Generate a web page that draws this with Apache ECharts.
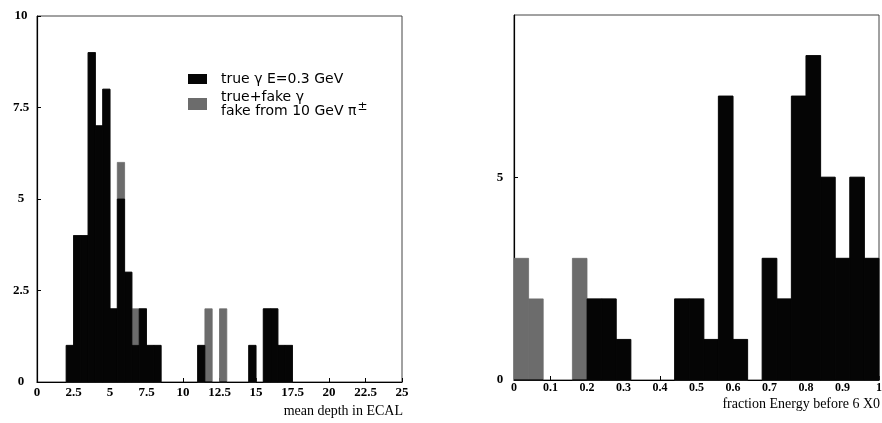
<!DOCTYPE html>
<html>
<head>
<meta charset="utf-8">
<script src="https://cdn.jsdelivr.net/npm/echarts@6/dist/echarts.min.js"></script>
<style>
  html, body { margin: 0; padding: 0; background: #fff; }
  #chart { width: 882px; height: 423px; }
</style>
</head>
<body>
<div id="chart"></div>
<script>
// left histogram: mean depth in ECAL, bins of 0.5
const depthBinWidth = 0.5;
const depthBinStart = [2.0, 2.5, 3.0, 3.5, 4.0, 4.5, 5.0, 5.5, 6.0, 6.5, 7.0, 7.5, 8.0, 11.0, 11.5, 12.5, 14.5, 15.5, 16.0, 16.5, 17.0];
const depthTrue     = [1,   4,   4,   9,   7,   8,   2,   5,   3,   1,   2,   1,   1,   1,    0,    0,    1,    2,    2,    1,    1];
const depthAll      = [1,   4,   4,   9,   7,   8,   2,   6,   3,   2,   2,   1,   1,   1,    2,    2,    1,    2,    2,    1,    1];

// right histogram: fraction energy before 6 X0, bins of 0.04
const fracBinWidth = 0.04;
const fracBinStart = [0.00, 0.04, 0.16, 0.20, 0.24, 0.28, 0.44, 0.48, 0.52, 0.56, 0.60, 0.68, 0.72, 0.76, 0.80, 0.84, 0.88, 0.92, 0.96];
const fracTrue     = [0,    0,    0,    2,    2,    1,    2,    2,    1,    7,    1,    3,    2,    7,    8,    5,    3,    5,    3];
const fracAll      = [3,    2,    3,    2,    2,    1,    2,    2,    1,    7,    1,    3,    2,    7,    8,    5,    3,    5,    3];

const nameTrue = 'true γ E=0.3 GeV';
const nameAll = 'true+fake γ';

function bins(starts, counts, w) {
  return starts.map((s, i) => [s, s + w, counts[i]]);
}

function renderBin(params, api) {
  const p0 = api.coord([api.value(0), api.value(2)]);
  const p1 = api.coord([api.value(1), 0]);
  const st = api.style();
  st.stroke = st.fill;
  st.lineWidth = 0.8;
  return {
    type: 'rect',
    shape: { x: p0[0], y: p0[1], width: p1[0] - p0[0], height: p1[1] - p0[1] },
    style: st
  };
}

const black = '#050505';
const grey = '#6c6c6c';

function xAxis(idx, min, max, interval, name, pad, fs, margin) {
  return {
    type: 'value', gridIndex: idx, min: min, max: max, interval: interval,
    splitLine: { show: false },
    axisLine: { lineStyle: { color: '#000', width: 1.2 } },
    axisTick: { inside: true, length: 4, lineStyle: { color: '#000' } },
    axisLabel: { margin: margin, fontFamily: 'Liberation Serif', fontWeight: 'bold', fontSize: fs, color: '#000' },
    name: name, nameLocation: 'end', nameGap: 1, nameMoveOverlap: false,
    nameTextStyle: { fontFamily: 'Liberation Serif', fontSize: 14, color: '#000',
      align: 'right', verticalAlign: 'top', padding: [pad, 0, 0, 0] }
  };
}

function yAxis(idx, max, interval, margin) {
  return {
    type: 'value', gridIndex: idx, min: 0, max: max, interval: interval,
    splitLine: { show: false },
    axisLine: { show: true, lineStyle: { color: '#000', width: 1.2 } },
    axisTick: { inside: true, length: 4, lineStyle: { color: '#000' } },
    axisLabel: { margin: margin, align: 'center', showMaxLabel: idx === 0,
      fontFamily: 'Liberation Serif', fontWeight: 'bold', fontSize: 13, color: '#000' }
  };
}

const chart = echarts.init(document.getElementById('chart'));
chart.setOption({
  animation: false,
  backgroundColor: '#fff',
  grid: [
    { left: 37, right: 480, top: 16, bottom: 41, show: true, borderColor: '#444', borderWidth: 1,
      containLabel: false, outerBoundsMode: 'none' },
    { left: 514, right: 3, top: 15, bottom: 43, show: true, borderColor: '#444', borderWidth: 1,
      containLabel: false, outerBoundsMode: 'none' }
  ],
  legend: [
    {
      data: [nameTrue], left: 183, top: 67, orient: 'vertical',
      itemWidth: 19, itemHeight: 10, icon: 'rect', selectedMode: false,
      textStyle: { fontFamily: 'DejaVu Sans', fontSize: 14, color: '#000', padding: [0, 0, 0, 9] }
    },
    {
      data: [nameAll], left: 183, top: 85, orient: 'vertical',
      itemWidth: 19, itemHeight: 12, icon: 'rect', selectedMode: false,
      formatter: () => 'true+fake γ\nfake from 10 GeV π{sup|±}',
      textStyle: {
        fontFamily: 'DejaVu Sans', fontSize: 14, color: '#000', padding: [0, 0, 0, 9], lineHeight: 14,
        rich: { sup: { fontFamily: 'DejaVu Sans', fontSize: 12, color: '#000', padding: [0, 0, 9, 1] } }
      }
    }
  ],
  xAxis: [
    xAxis(0, 0, 25, 2.5, 'mean depth in ECAL', 22, 13, 4),
    xAxis(1, 0, 1, 0.1, 'fraction Energy before 6 X0', 17, 12, 2)
  ],
  yAxis: [
    yAxis(0, 10, 2.5, 16),
    yAxis(1, 9, 5, 14)
  ],
  series: [
    { name: nameAll, type: 'custom', xAxisIndex: 0, yAxisIndex: 0, renderItem: renderBin,
      itemStyle: { color: grey }, encode: { x: [0, 1], y: 2 },
      data: bins(depthBinStart, depthAll, depthBinWidth) },
    { name: nameTrue, type: 'custom', xAxisIndex: 0, yAxisIndex: 0, renderItem: renderBin,
      itemStyle: { color: black }, encode: { x: [0, 1], y: 2 },
      data: bins(depthBinStart, depthTrue, depthBinWidth) },
    { name: 'all (fraction)', type: 'custom', xAxisIndex: 1, yAxisIndex: 1, renderItem: renderBin,
      itemStyle: { color: grey }, encode: { x: [0, 1], y: 2 },
      data: bins(fracBinStart, fracAll, fracBinWidth) },
    { name: 'true (fraction)', type: 'custom', xAxisIndex: 1, yAxisIndex: 1, renderItem: renderBin,
      itemStyle: { color: black }, encode: { x: [0, 1], y: 2 },
      data: bins(fracBinStart, fracTrue, fracBinWidth) }
  ]
});
</script>
</body>
</html>
